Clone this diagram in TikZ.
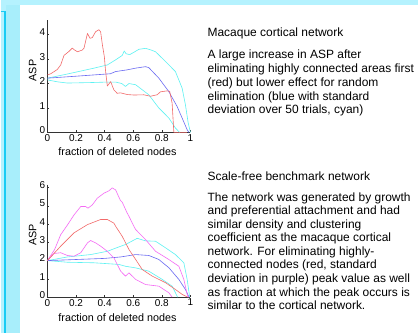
\documentclass[tikz,border=0pt]{standalone}
\usepackage{fontspec}
\setmainfont{Liberation Sans}
\definecolor{panelcyan}{HTML}{B5F2FE}
\definecolor{stripcyan}{HTML}{A8EEFB}
\definecolor{edgecyan}{HTML}{1ACCF4}
\definecolor{cred}{HTML}{F26A6A}
\definecolor{cblue}{HTML}{6A6AF2}
\definecolor{ccyan}{HTML}{5CF2F2}
\definecolor{cmag}{HTML}{F56AF5}
\tikzset{
  axisline/.style={black!80, line width=0.5pt},
  ticklab/.style={font=\fontsize{10}{12}\selectfont, inner sep=0.5pt},
  axlab/.style={font=\fontsize{10.8}{12}\selectfont, inner sep=0pt},
  curve/.style={line width=0.6pt, line join=round},
  titletext/.style={font=\fontsize{12}{13.8}\selectfont, anchor=base west, inner sep=0pt},
  bodytext/.style={font=\fontsize{12}{13.8}\selectfont, anchor=base west, inner sep=0pt, align=left},
}
\begin{document}
\begin{tikzpicture}[x=1pt,y=1pt]
% page frame
\fill[panelcyan] (0,0) rectangle (418,334);
\fill[stripcyan] (5,0) rectangle (19,329);
\fill[white] (19,0) rectangle (418,329);
\draw[edgecyan, line width=1.6pt] (0,322.5) -- (4,322.5) -- (4,0);

% ---------- upper plot: macaque cortical network ----------
\begin{scope}[shift={(46.7,201.3)}, x=143.3pt, y=24.5pt]
  \draw[axisline] (0,4.58) -- (0,0) -- (1,0);
  \foreach \v in {1,2,3,4} \draw[axisline] (0,\v) -- ++(2pt,0);
  \foreach \v in {0.2,0.4,0.6,0.8,1} \draw[axisline] (\v,0) -- ++(0,2pt);
  \foreach \v in {0,1,2,3,4} \node[ticklab, anchor=east] (ya\v) at (-1.5pt,\v+0.09) {\v};
  \foreach \v/\t in {0/0,0.2/0.2,0.4/0.4,0.6/0.6,0.8/0.8,1/1}
    \node[ticklab, anchor=north] (xa\v) at (\v,-0.05) {\t};
  \node[axlab, rotate=90] (asp1) at (-14.7pt,2.53) {ASP};
  \node[axlab] (frac1) at (0.49,-0.80) {fraction of deleted nodes};
  % random elimination, +/- standard deviation
  \draw[curve, ccyan] (0,2.22) -- (0.14,2.39) -- (0.326,2.63) -- (0.419,2.76) -- (0.477,2.97)
    -- (0.523,3.15) -- (0.537,3.33) -- (0.55,3.22) -- (0.575,3.18) -- (0.605,3.28) -- (0.64,3.4)
    -- (0.686,3.44) -- (0.72,3.38) -- (0.756,3.3) -- (0.826,2.9) -- (0.895,2.49) -- (0.942,1.81)
    -- (0.965,1.13) -- (0.984,0.4) -- (1,0);
  \draw[curve, ccyan] (0,2.15) -- (0.07,2.07) -- (0.14,2.02) -- (0.3,2.04) -- (0.419,2.06)
    -- (0.477,2.06) -- (0.52,2.0) -- (0.546,1.88) -- (0.57,2.0) -- (0.617,1.95) -- (0.709,1.54)
    -- (0.779,1.0) -- (0.849,0.59) -- (0.895,0.18) -- (0.925,0);
  % random elimination, mean
  \draw[curve, cblue] (0,2.22) -- (0.2,2.3) -- (0.44,2.4) -- (0.477,2.49) -- (0.558,2.56)
    -- (0.617,2.63) -- (0.686,2.69) -- (0.709,2.65) -- (0.779,2.22) -- (0.849,1.67)
    -- (0.907,1.06) -- (0.942,0.59) -- (0.977,0.11) -- (0.99,0);
  % highly connected areas removed first
  \draw[curve, cred] (0,2.35) -- (0.023,2.4) -- (0.05,2.5) -- (0.07,2.58) -- (0.093,2.76)
    -- (0.116,3.15) -- (0.15,3.31) -- (0.174,3.45) -- (0.19,3.37) -- (0.21,3.3) -- (0.244,3.37)
    -- (0.256,3.45) -- (0.28,4.05) -- (0.298,3.85) -- (0.314,3.88) -- (0.337,4.12) -- (0.36,4.2)
    -- (0.372,4.12) -- (0.384,3.6) -- (0.398,3.1) -- (0.407,2.49) -- (0.419,1.9) -- (0.442,2.08)
    -- (0.465,1.74) -- (0.488,1.6) -- (0.51,1.62) -- (0.558,1.55) -- (0.605,1.53) -- (0.674,1.54)
    -- (0.72,1.48) -- (0.767,1.54) -- (0.79,1.66) -- (0.837,1.7) -- (0.855,1.68) -- (0.872,1.2)
    -- (0.884,0) -- (0.975,0);
\end{scope}

% ---------- lower plot: scale-free benchmark network ----------
\begin{scope}[shift={(46.7,36.3)}, x=143.3pt, y=18.3pt]
  \draw[axisline] (0,6.16) -- (0,0) -- (1,0);
  \foreach \v in {1,2,3,4,5,6} \draw[axisline] (0,\v) -- ++(2pt,0);
  \foreach \v in {0.2,0.4,0.6,0.8,1} \draw[axisline] (\v,0) -- ++(0,2pt);
  \foreach \v in {0,1,2,3,4,5,6} \node[ticklab, anchor=east] (yb\v) at (-1.5pt,\v+0.12) {\v};
  \foreach \v/\t in {0/0,0.2/0.2,0.4/0.4,0.6/0.6,0.8/0.8,1/1}
    \node[ticklab, anchor=north] (xb\v) at (\v,-0.07) {\t};
  \node[axlab, rotate=90] (asp2) at (-14.7pt,3.42) {ASP};
  \node[axlab] (frac2) at (0.49,-1.12) {fraction of deleted nodes};
  % random elimination, +/- standard deviation
  \draw[curve, ccyan] (0,2) -- (0.14,2.2) -- (0.302,2.33) -- (0.419,2.51) -- (0.5,2.75)
    -- (0.546,2.88) -- (0.628,3.22) -- (0.686,3.08) -- (0.756,3.06) -- (0.826,2.7)
    -- (0.895,2.33) -- (0.954,1.88) -- (0.977,0.97) -- (0.995,0);
  \draw[curve, ccyan] (0,2) -- (0.14,1.91) -- (0.326,1.88) -- (0.5,1.79) -- (0.546,1.69)
    -- (0.617,1.6) -- (0.709,1.42) -- (0.803,0.97) -- (0.872,0.6) -- (0.895,0.24) -- (0.91,0);
  % random elimination, mean
  \draw[curve, cblue] (0,2.0) -- (0.2,2.06) -- (0.4,2.12) -- (0.512,2.2) -- (0.617,2.33)
    -- (0.709,2.28) -- (0.779,2.06) -- (0.849,1.61) -- (0.919,0.97) -- (0.965,0.42) -- (0.99,0);
  % highly connected nodes first, +/- standard deviation
  \draw[curve, cmag] (0,2) -- (0.05,2.6) -- (0.093,3.42) -- (0.14,3.95) -- (0.186,4.5)
    -- (0.233,4.96) -- (0.267,4.96) -- (0.284,4.87) -- (0.314,5.05) -- (0.349,5.42)
    -- (0.395,5.69) -- (0.43,5.82) -- (0.453,5.98) -- (0.477,5.87) -- (0.51,5.3) -- (0.523,5.2)
    -- (0.558,4.6) -- (0.57,4.43) -- (0.605,3.87) -- (0.617,3.7) -- (0.686,3.15) -- (0.756,2.51)
    -- (0.849,2.06) -- (0.919,1.69) -- (0.954,0.97) -- (0.98,0.05) -- (0.99,0);
  \draw[curve, cmag] (0,2.0) -- (0.046,2.39) -- (0.093,2.43) -- (0.14,2.28) -- (0.186,2.24)
    -- (0.233,2.43) -- (0.28,2.97) -- (0.302,3.1) -- (0.337,2.97) -- (0.372,2.79) -- (0.419,2.51)
    -- (0.465,2.15) -- (0.5,1.61) -- (0.512,1.42) -- (0.546,1.15) -- (0.57,1.33) -- (0.617,0.97)
    -- (0.686,0.69) -- (0.779,0.6) -- (0.849,0.24) -- (0.872,0);
  % highly connected nodes first, mean
  \draw[curve, cred] (0,2) -- (0.093,2.79) -- (0.186,3.52) -- (0.28,3.97) -- (0.372,4.25)
    -- (0.419,4.25) -- (0.465,4.05) -- (0.477,3.88) -- (0.523,3.33) -- (0.57,2.61) -- (0.617,2.06)
    -- (0.663,1.51) -- (0.733,1.15) -- (0.826,0.79) -- (0.895,0.42) -- (0.942,0.15) -- (0.98,0);
\end{scope}

% ---------- captions (multi-line nodes sit on the baseline of their last line) ----------
\node[titletext] (title1) at (207,297.5) {Macaque cortical network};
\node[bodytext] (body1) at (207,219.8) {A large increase in ASP after\\
eliminating highly connected areas first\\
(red) but lower effect for random\\
elimination (blue with standard\\
deviation over 50 trials, cyan)};

\node[titletext] (title2) at (207,153) {Scale-free benchmark network};
\node[bodytext, font=\fontsize{12}{13.6}\selectfont] (body2) at (207,23.7) {The network was generated by growth\\
and preferential attachment and had\\
similar density and clustering\\
coefficient as the macaque cortical\\
network. For eliminating highly-\\
connected nodes (red, standard\\
deviation in purple) peak value as well\\
as fraction at which the peak occurs is\\
similar to the cortical network.};
\end{tikzpicture}
\end{document}
